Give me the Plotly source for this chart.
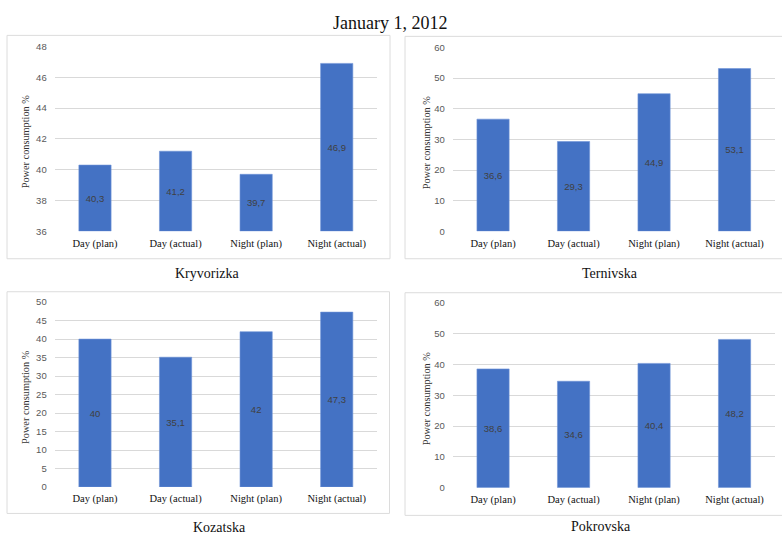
import plotly.graph_objects as go

W, H = 782, 539

title_text = "January 1, 2012"
categories = ["Day (plan)", "Day (actual)", "Night (plan)", "Night (actual)"]
station_names = ["Kryvorizka", "Ternivska", "Kozatska", "Pokrovska"]
kryvorizka = [40.3, 41.2, 39.7, 46.9]
ternivska = [36.6, 29.3, 44.9, 53.1]
kozatska = [40, 35.1, 42, 47.3]
pokrovska = [38.6, 34.6, 40.4, 48.2]
y_ranges = [[36, 48], [0, 60], [0, 50], [0, 60]]
y_dticks = [2, 10, 5, 10]
y_title = "Power consumption %"

series = [kryvorizka, ternivska, kozatska, pokrovska]

# pixel layout (x0, x1, ytop, ybottom) of plot areas
plot_px = [(54.7, 377, 41.3, 230), (452.8, 774.8, 42.3, 230),
           (54.7, 377, 302.3, 491), (452.8, 774.8, 303.3, 491.7)]
border_px = [(7, 390, 30, 258), (405, 790, 31, 258),
             (7, 389.5, 291.7, 518), (405, 790, 292.7, 520)]
subtitle_px = [(207, 273), (610, 273), (219, 532), (601, 531)]
ytitle_x = [25.5, 426, 25.5, 426]

BAR = "#4472C4"
GRID = "#d9d9d9"
SERIF = "Liberation Serif, Times New Roman, serif"
SANS = "Liberation Sans, Arial, sans-serif"

def fmt(v):
    return f"{v:g}".replace(".", ",")

fig = go.Figure()
shapes, annotations = [], []
layout_axes = {}
for i, vals in enumerate(series):
    n = "" if i == 0 else str(i + 1)
    x0, x1, yt, yb = plot_px[i]
    lo = y_ranges[i][0]
    fig.add_trace(go.Bar(
        x=categories, y=[v - lo for v in vals], base=lo,
        xaxis="x" + n, yaxis="y" + n,
        marker=dict(color=BAR, line=dict(width=0.6, color="#6f93d6")),
        text=[fmt(v) for v in vals], textposition="inside",
        insidetextanchor="middle", textangle=0,
        insidetextfont=dict(family=SANS, size=9.5, color="#404040"),
        showlegend=False, hoverinfo="skip"))
    layout_axes["xaxis" + n] = dict(
        domain=[x0 / W, x1 / W], anchor="y" + n, showgrid=False,
        zeroline=False, showline=False, ticks="",
        tickfont=dict(family=SERIF, size=10.5, color="#111"),
        ticklabelstandoff=4, fixedrange=True)
    layout_axes["yaxis" + n] = dict(
        domain=[1 - yb / H, 1 - yt / H], anchor="x" + n,
        range=y_ranges[i], dtick=y_dticks[i], showgrid=True,
        gridcolor=GRID, gridwidth=1, zeroline=False, showline=False,
        ticks="", ticklabelstandoff=7,
        tickfont=dict(family=SANS, size=9.5, color="#595959"), fixedrange=True)
    bx0, bx1, by0, by1 = border_px[i]
    shapes.append(dict(type="rect", xref="paper", yref="paper",
                       x0=bx0 / W, x1=bx1 / W, y0=1 - by1 / H, y1=1 - by0 / H,
                       line=dict(color="#dcdcdc", width=1), layer="below"))
    sx, sy = subtitle_px[i]
    annotations.append(dict(text=station_names[i], xref="paper", yref="paper",
                            x=sx / W, y=1 - sy / H, xanchor="center", yanchor="middle",
                            showarrow=False, font=dict(family=SERIF, size=14, color="#111")))
    annotations.append(dict(text=y_title, xref="paper", yref="paper",
                            x=ytitle_x[i] / W, y=1 - ((yt + yb) / 2 + 3) / H,
                            xanchor="center", yanchor="middle", textangle=-90,
                            showarrow=False, font=dict(family=SERIF, size=10.3, color="#333")))

annotations.append(dict(text=title_text, xref="paper", yref="paper",
                        x=390 / W, y=1 - 17 / H, xanchor="center", yanchor="middle",
                        showarrow=False, font=dict(family=SERIF, size=18, color="#111")))

fig.update_layout(
    width=W, height=H, margin=dict(l=0, r=0, t=0, b=0),
    paper_bgcolor="white", plot_bgcolor="white",
    bargap=0.6, shapes=shapes, annotations=annotations, **layout_axes)

fig.write_html("out.html", config={"displayModeBar": False})
